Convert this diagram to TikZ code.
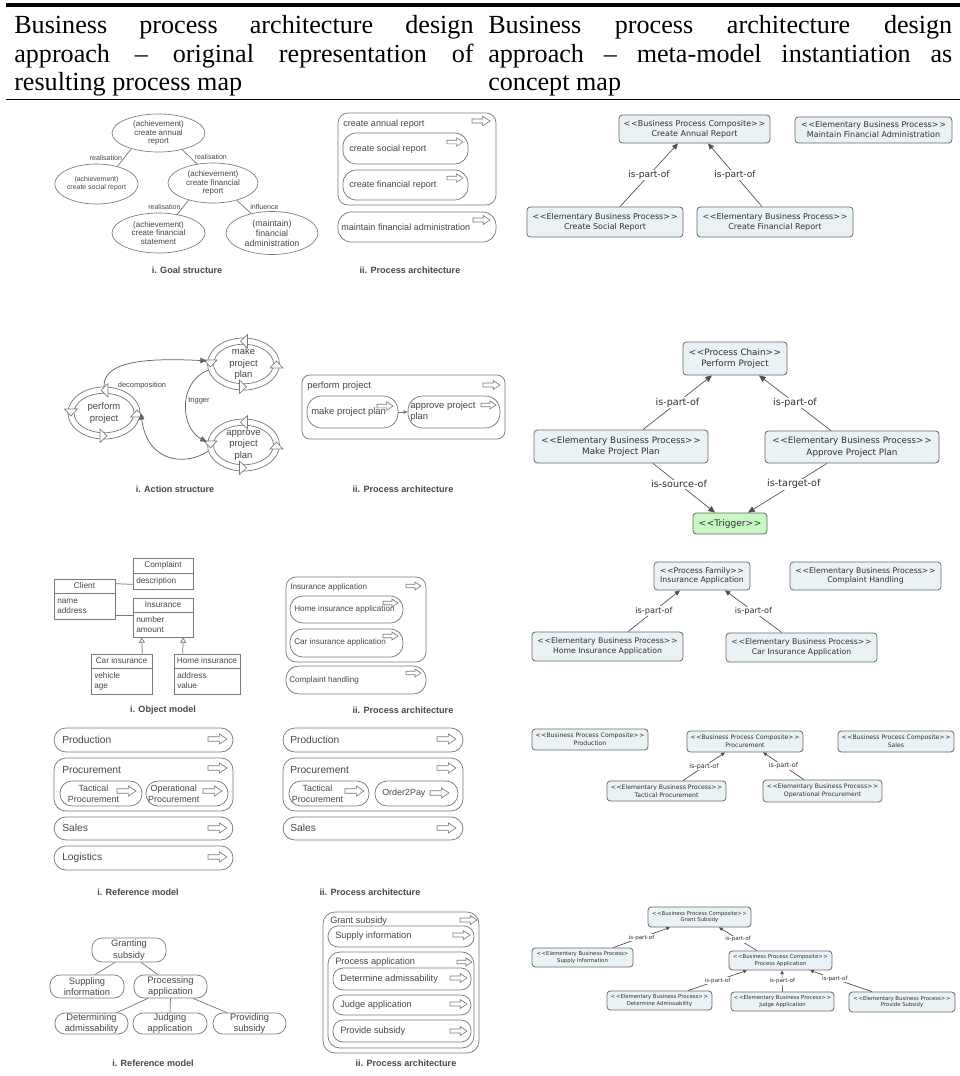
\documentclass[tikz,border=0pt]{standalone}
\usepackage{fontspec}
\setmainfont{Liberation Serif}
\newfontfamily\arial{Liberation Sans}
\newfontfamily\verd{DejaVu Sans}
\usetikzlibrary{shapes.geometric,arrows.meta,fit,calc}
\definecolor{lgray}{HTML}{7A7A7A}
\definecolor{tgray}{HTML}{474747}
\definecolor{cmfill}{HTML}{EBF2F5}
\definecolor{cmborder}{HTML}{6A6A6A}
\definecolor{cmline}{HTML}{505050}
\definecolor{cmtext}{HTML}{303030}
\definecolor{trgfill}{HTML}{C9F7C4}
\newcommand\fsz[2]{\fontsize{#1}{#2}\selectfont}
\newcommand\stL{<\kern0.5pt<}
\newcommand\stR{>\kern0.5pt>}
\tikzset{
 wh/.style 2 args={minimum width=#1*0.75pt, minimum height=#2*0.75pt},
 hd/.style={font=\fsz{19.6pt}{19.6pt}, inner sep=0pt, anchor=base west},
 gl/.style={ellipse, draw=lgray, text=tgray, align=center, inner sep=0pt, line width=0.5pt},
 gline/.style={draw=lgray, line width=0.55pt},
 glbl/.style={font=\arial\fsz{5.3pt}{6pt}, text=tgray, inner sep=0.5pt},
 capt/.style={font=\arial\bfseries\fsz{6.8pt}{8pt}, text=tgray, inner sep=0pt},
 pb/.style={draw=lgray, line width=0.55pt, rounded corners=#1, inner sep=0pt},
 ptx/.style={text=tgray, inner sep=0pt, anchor=west, align=left},
 cmbox/.style={draw=cmborder, fill=cmfill, rounded corners=2.5pt, align=center, inner sep=0pt, text=cmtext, line width=0.6pt},
 cma/.style 2 args={draw=cmline, line width=0.5pt, -{Triangle[length=#1,width=#2]}},
 cml/.style={fill=white, inner sep=0.6pt, text=cmtext},
 uml/.style={draw=lgray, inner sep=0pt, line width=0.55pt},
 umlt/.style={font=\arial\fsz{6.2pt}{7.5pt}, text=tgray, inner sep=0pt, align=left},
 rr/.style={draw=lgray, rounded corners=7.5pt, align=center, inner sep=0pt, font=\arial\fsz{7pt}{8.75pt}, text=tgray, line width=0.55pt},
 aline/.style={draw=lgray!80!black, line width=0.55pt, -{Triangle[length=5pt,width=4pt]}},
 cyct/.style={ellipse, wh={73}{52}, align=center, inner sep=0pt, font=\arial\fsz{7.1pt}{8.6pt}, text=tgray},
 parr/.pic={\draw[draw=lgray, line width=0.5pt, fill=white, line join=miter] (0,-2.3) -- (12,-2.3) -- (12,-5.3) -- (20,0) -- (12,5.3) -- (12,2.3) -- (0,2.3) -- cycle;},
 cyc/.pic={
  \draw[lgray, line width=0.55pt] (0,0) ellipse [x radius=27pt, y radius=19.5pt];
  \draw[lgray, line width=0.55pt] (0,0) ellipse [x radius=22.5pt, y radius=14.8pt];
  \draw[lgray, line width=0.5pt, fill=white] (4,-29.5) -- (-3,-22.8) -- (4,-16) -- cycle;
  \draw[lgray, line width=0.5pt, fill=white] (-4,16) -- (3,22.8) -- (-4,29.5) -- cycle;
  \draw[lgray, line width=0.5pt, fill=white] (-39.5,-4) -- (-33,3) -- (-26.5,-4) -- cycle;
  \draw[lgray, line width=0.5pt, fill=white] (26.5,4) -- (33,-3) -- (39.5,4) -- cycle;
 },
}
\begin{document}
\begin{tikzpicture}[x=0.75pt,y=-0.75pt]
\fill[white] (0,0) rectangle (960,1076);
\useasboundingbox (0,0) rectangle (960,1076);

% ---------------- header
\draw[line width=3pt] (6,4.5) -- (960,4.5);
\draw[line width=1.3pt] (6,99.5) -- (960,99.5);
\node[hd] (hl1) at (14,33.5) {\makebox[344.5pt][s]{Business process architecture design}};
\node[hd] (hl2) at (14,62) {\makebox[344.5pt][s]{approach \textendash{} original representation of}};
\node[hd] (hl3) at (14,90.5) {resulting process map};
\node[hd] (hr1) at (488,33.5) {\makebox[348pt][s]{Business process architecture design}};
\node[hd] (hr2) at (488,62) {\makebox[348pt][s]{approach \textendash{} meta-model instantiation as}};
\node[hd] (hr3) at (488,90.5) {concept map};

% ---------------- row 1: goal structure
\node[gl, wh={93}{38}, font=\arial\fsz{6pt}{6.4pt}] (g1) at (158.5,133) {(achievement)\\create annual\\report};
\node[gl, wh={83}{40}, font=\arial\fsz{5.2pt}{6pt}] (g2) at (96.5,184) {(achievement)\\create social report};
\node[gl, wh={90}{40}, font=\arial\fsz{6pt}{6.4pt}] (g3) at (213,183) {(achievement)\\create financial\\report};
\node[gl, wh={93}{40}, font=\arial\fsz{6pt}{6.4pt}] (g4) at (158.5,233) {(achievement)\\create financial\\statement};
\node[gl, wh={92}{43}, font=\arial\fsz{6.6pt}{7.4pt}] (g5) at (272,233) {(maintain)\\financial\\administration};
\draw[gline] (g1.210) -- (g2.40) node[glbl, midway, left=1pt] (l1) {realisation};
\draw[gline] (g1.325) -- (g3.130) node[glbl, midway, right=3pt] (l2) {realisation};
\draw[gline] (g3.215) -- (g4.45) node[glbl, midway, left=1pt] (l3) {realisation};
\draw[gline] (g3.324) -- (g5.137) node[glbl, midway, right=4pt] (l4) {influence};
\node[capt] (c1a) at (187,270) {i. Goal structure};

% row 1: process architecture
\node[pb=7.5pt, fit={(338,113) (496,205)}] (pa1) {};
\node[ptx, font=\arial\fsz{6.8pt}{8pt}] (pa1t) at (343,124) {create annual report};
\pic[scale=0.9] at (472,121) {parr};
\node[pb=10pt, fit={(343,133) (468,164)}] (pa1a) {};
\node[ptx, font=\arial\fsz{6.8pt}{8pt}] (pa1at) at (349,149) {create social report};
\pic[scale=0.8] at (447,142) {parr};
\node[pb=10pt, fit={(343,170) (468,200)}] (pa1b) {};
\node[ptx, font=\arial\fsz{6.8pt}{8pt}] (pa1bt) at (349,185) {create financial report};
\pic[scale=0.8] at (447,178) {parr};
\node[pb=10pt, fit={(338,212) (496,242)}] (pa1c) {};
\node[ptx, font=\arial\fsz{6.8pt}{8pt}] (pa1ct) at (341,227) {maintain financial administration};
\pic[scale=0.85] at (473,220) {parr};
\node[capt] (c1b) at (410,270) {ii. Process architecture};

% row 1: concept map
\node[cmbox, wh={151}{28}, font=\verd\fsz{6pt}{7.5pt}] (car) at (694.5,129) {\stL Business Process Composite\stR\\Create Annual Report};
\node[cmbox, wh={157}{26}, font=\verd\fsz{6pt}{7.5pt}] (mfa) at (873.5,130) {\stL Elementary Business Process\stR\\Maintain Financial Administration};
\node[cmbox, wh={156}{30}, font=\verd\fsz{6pt}{7.5pt}] (csr) at (605,222) {\stL Elementary Business Process\stR\\Create Social Report};
\node[cmbox, wh={156}{30}, font=\verd\fsz{6pt}{7.5pt}] (cfr) at (775,222) {\stL Elementary Business Process\stR\\Create Financial Report};
\draw[cma={4.5pt}{4pt}] ($(csr.north)+(15,0)$) -- ($(car.south)+(-16.5,0)$) node[cml, midway, font=\verd\fsz{6.8pt}{8pt}] (k1) {is-part-of};
\draw[cma={4.5pt}{4pt}] ($(cfr.north)+(-13,0)$) -- ($(car.south)+(13.5,0)$) node[cml, midway, font=\verd\fsz{6.8pt}{8pt}] (k2) {is-part-of};

% ---------------- row 2: action structure
\pic at (243.5,364) {cyc};
\pic at (104,413) {cyc};
\pic at (243.5,445) {cyc};
\node[cyct] (mk) at (243.5,364) {make\\project\\plan};
\node[cyct] (pf) at (104,413) {perform\\project};
\node[cyct] (ap) at (243.5,445) {approve\\project\\plan};
\draw[aline] (pf.north) .. controls (103,360) and (150,358) .. (mk.175);
\draw[aline] (mk.190) .. controls (178,382) and (180,428) .. (ap.175);
\draw[aline] (ap.190) .. controls (188,465) and (148,465) .. (pf.east);
\node[glbl, font=\arial\fsz{5.6pt}{6.5pt}] (lb1) at (142,386) {decomposition};
\node[glbl, font=\arial\fsz{5.6pt}{6.5pt}] (lb2) at (199,401) {trigger};
\node[capt] (c2a) at (175,489) {i. Action structure};

% row 2: process architecture
\node[pb=6pt, fit={(302,375) (505,439)}] (pa2) {};
\node[ptx, font=\arial\fsz{7.1pt}{8.3pt}] (pa2t) at (307,386) {perform project};
\pic[scale=0.85] at (483,385) {parr};
\node[pb=11pt, fit={(307,396) (398,428)}] (pa2a) {};
\node[ptx, font=\arial\fsz{7.1pt}{8.3pt}] (pa2at) at (311,412) {make project plan};
\pic[scale=0.8] at (377,406) {parr};
\node[pb=11pt, fit={(408,396) (500,428)}] (pa2b) {};
\node[ptx, font=\arial\fsz{7.1pt}{8.3pt}] (pa2bt) at (410,412) {approve project\\plan};
\pic[scale=0.75] at (481,405) {parr};
\draw[lgray, line width=0.55pt, -{Triangle[length=3pt,width=2.6pt]}] (pa2a) -- (pa2b);
\node[capt] (c2b) at (403,489) {ii. Process architecture};

% row 2: concept map
\node[cmbox, wh={104}{33}, font=\verd\fsz{6.6pt}{8.75pt}] (pp) at (735,358.5) {\stL Process Chain\stR\\Perform Project};
\node[cmbox, wh={174}{33}, font=\verd\fsz{6.6pt}{8.75pt}] (mpp) at (621,446.5) {\stL Elementary Business Process\stR\\Make Project Plan};
\node[cmbox, wh={174}{32}, font=\verd\fsz{6.6pt}{8.75pt}] (app) at (852,447) {\stL Elementary Business Process\stR\\Approve Project Plan};
\node[cmbox, wh={74}{21}, fill=trgfill, font=\verd\fsz{6.8pt}{8pt}] (trg) at (730,523.5) {\stL Trigger\stR};
\draw[cma={5pt}{4.5pt}] ($(mpp.north)+(22,0)$) -- ($(pp.south)+(-23,0)$) node[cml, midway, font=\verd\fsz{7.2pt}{8pt}] (k3) {is-part-of};
\draw[cma={5pt}{4.5pt}] ($(app.north)+(-21,0)$) -- ($(pp.south)+(24,0)$) node[cml, midway, font=\verd\fsz{7.2pt}{8pt}] (k4) {is-part-of};
\draw[cma={5pt}{4.5pt}] ($(mpp.south)+(32,0)$) -- ($(trg.north)+(-15,0)$) node[cml, pos=0.42, font=\verd\fsz{7.2pt}{8pt}] (k5) {is-source-of};
\draw[cma={5pt}{4.5pt}] ($(app.south)+(-25,0)$) -- ($(trg.north)+(18,0)$) node[cml, pos=0.42, font=\verd\fsz{7.2pt}{8pt}] (k6) {is-target-of};

% ---------------- row 3: object model
\node[uml, fit={(133,558) (193,589)}] (cmp) {};
\draw[gline] (cmp.west |- 0,573) -- (cmp.east |- 0,573);
\node[umlt] (cmpt) at (163,565.5) {Complaint};
\node[umlt, anchor=west] (cmpa) at (136,581) {description};
\node[uml, fit={(54,579) (115,619)}] (cli) {};
\draw[gline] (cli.west |- 0,593) -- (cli.east |- 0,593);
\node[umlt] (clit) at (84.5,586) {Client};
\node[umlt, anchor=west] (clia) at (57,606) {name\\address};
\node[uml, fit={(133,598) (193,637)}] (ins) {};
\draw[gline] (ins.west |- 0,612) -- (ins.east |- 0,612);
\node[umlt] (inst) at (163,605) {Insurance};
\node[umlt, anchor=west] (insa) at (136,625) {number\\amount};
\node[uml, fit={(91,654) (152,694)}] (car2) {};
\draw[gline] (car2.west |- 0,668) -- (car2.east |- 0,668);
\node[umlt] (car2t) at (121.5,661) {Car insurance};
\node[umlt, anchor=west] (car2a) at (94,681) {vehicle\\age};
\node[uml, fit={(174,654) (240,694)}] (hom) {};
\draw[gline] (hom.west |- 0,668) -- (hom.east |- 0,668);
\node[umlt] (homt) at (207,661) {Home insurance};
\node[umlt, anchor=west] (homa) at (177,681) {address\\value};
\draw[gline] ($(cli.north east)+(0,5)$) -- ($(cmp.south west)+(0,-5)$);
\draw[gline] ($(cli.south east)+(0,-4)$) -- ($(ins.south west)+(0,-22)$);
\draw[gline, -{Triangle[open, length=4pt, width=4.5pt]}] ($(car2.north east)+(-10,0)$) -- ($(ins.south west)+(9,0)$);
\draw[gline, -{Triangle[open, length=4pt, width=4.5pt]}] ($(hom.north west)+(9,0)$) -- ($(ins.south east)+(-10,0)$);
\node[capt] (c3a) at (163,710) {i. Object model};

% row 3: process architecture
\node[pb=7.5pt, fit={(286,577) (426,662)}] (ia) {};
\node[ptx, font=\arial\fsz{6.1pt}{7pt}] (iat) at (290,587) {Insurance application};
\pic[scale=0.75] at (406,586) {parr};
\node[pb=9.5pt, fit={(290,596) (403,623)}] (hiab) {};
\node[ptx, font=\arial\fsz{6.1pt}{7pt}] (hiat) at (294,609) {Home insurance application};
\pic[scale=0.75] at (383,603) {parr};
\node[pb=9.5pt, fit={(290,629) (403,657)}] (ciab) {};
\node[ptx, font=\arial\fsz{6.1pt}{7pt}] (ciat) at (294,642) {Car insurance application};
\pic[scale=0.75] at (383,636) {parr};
\node[pb=9.5pt, fit={(286,666) (426,694)}] (chb) {};
\node[ptx, font=\arial\fsz{6.1pt}{7pt}] (chbt) at (289,680) {Complaint handling};
\pic[scale=0.75] at (406,673) {parr};
\node[capt] (c3b) at (403,710) {ii. Process architecture};

% row 3: concept map
\node[cmbox, wh={96}{28}, font=\verd\fsz{5.8pt}{7pt}] (pfm) at (702,576) {\stL Process Family\stR\\Insurance Application};
\node[cmbox, wh={151}{28}, font=\verd\fsz{5.8pt}{7pt}] (chd) at (865.5,576) {\stL Elementary Business Process\stR\\Complaint Handling};
\node[cmbox, wh={151}{29}, font=\verd\fsz{5.8pt}{7pt}] (hia) at (607.5,646.5) {\stL Elementary Business Process\stR\\Home Insurance Application};
\node[cmbox, wh={151}{29}, font=\verd\fsz{5.8pt}{7pt}] (cia) at (801.5,647.5) {\stL Elementary Business Process\stR\\Car Insurance Application};
\draw[cma={4pt}{3.6pt}] ($(hia.north)+(20.5,0)$) -- ($(pfm.south)+(-22,0)$) node[cml, midway, font=\verd\fsz{6.1pt}{7pt}] (k7) {is-part-of};
\draw[cma={4pt}{3.6pt}] ($(cia.north)+(-19.5,0)$) -- ($(pfm.south)+(23,0)$) node[cml, midway, font=\verd\fsz{6.1pt}{7pt}] (k8) {is-part-of};

% ---------------- row 4: reference model
\node[pb=9pt, fit={(54,728) (233,752)}] (rprod) {};
\node[ptx, font=\arial\fsz{7.7pt}{9pt}] (rprodt) at (62,740) {Production};
\pic[scale=0.95] at (208,739) {parr};
\node[pb=9pt, fit={(54,758) (233,811)}] (rproc) {};
\node[ptx, font=\arial\fsz{7.7pt}{9pt}] (rproct) at (62,770) {Procurement};
\pic[scale=0.95] at (208,768) {parr};
\node[pb=9pt, fit={(60,781) (142,806)}] (rtp) {};
\pic[scale=0.95] at (117,791) {parr};
\node[ptx, anchor=center, align=center, font=\arial\fsz{6.7pt}{8.2pt}] (rtpt) at (93.5,793.5) {Tactical\\Procurement};
\node[pb=9pt, fit={(146,781) (228,806)}] (rop) {};
\pic[scale=0.95] at (203,791) {parr};
\node[ptx, anchor=center, align=center, font=\arial\fsz{6.7pt}{8.2pt}] (ropt) at (173.7,793.5) {Operational\\Procurement};
\node[pb=9pt, fit={(54,817) (233,840)}] (rsal) {};
\node[ptx, font=\arial\fsz{7.7pt}{9pt}] (rsalt) at (62,828) {Sales};
\pic[scale=0.95] at (208,828) {parr};
\node[pb=9pt, fit={(54,846) (233,870)}] (rlog) {};
\node[ptx, font=\arial\fsz{7.7pt}{9pt}] (rlogt) at (62,858) {Logistics};
\pic[scale=0.95] at (208,857) {parr};
\node[capt] (c4a) at (138,892) {i. Reference model};

% row 4: process architecture
\node[pb=9pt, fit={(283,728) (463,752)}] (pprod) {};
\node[ptx, font=\arial\fsz{7.7pt}{9pt}] (pprodt) at (290,740) {Production};
\pic[scale=0.95] at (437,739) {parr};
\node[pb=9pt, fit={(283,758) (463,811)}] (pproc) {};
\node[ptx, font=\arial\fsz{7.7pt}{9pt}] (pproct) at (290,770) {Procurement};
\pic[scale=0.95] at (437,768) {parr};
\node[pb=9pt, fit={(289,781) (369,806)}] (ptp) {};
\pic[scale=0.95] at (345,791) {parr};
\node[ptx, anchor=center, align=center, font=\arial\fsz{6.7pt}{8.2pt}] (ptpt) at (317.5,793.5) {Tactical\\Procurement};
\node[pb=9pt, fit={(375,781) (458,806)}] (pop) {};
\node[ptx, font=\arial\fsz{6.7pt}{8.2pt}] (popt) at (382,793) {Order2Pay};
\pic[scale=0.95] at (430,793) {parr};
\node[pb=9pt, fit={(283,817) (463,840)}] (psal) {};
\node[ptx, font=\arial\fsz{7.7pt}{9pt}] (psalt) at (290,828) {Sales};
\pic[scale=0.95] at (437,828) {parr};
\node[capt] (c4b) at (370,892) {ii. Process architecture};

% row 4: concept map
\node[cmbox, wh={116}{21}, font=\verd\fsz{4.6pt}{6pt}] (cprod) at (590,739.5) {\stL Business Process Composite\stR\\Production};
\node[cmbox, wh={116}{21}, font=\verd\fsz{4.6pt}{6pt}] (cproc) at (745,741.5) {\stL Business Process Composite\stR\\Procurement};
\node[cmbox, wh={116}{21}, font=\verd\fsz{4.6pt}{6pt}] (csal) at (896,741.5) {\stL Business Process Composite\stR\\Sales};
\node[cmbox, wh={119}{20}, font=\verd\fsz{4.6pt}{6pt}] (ctp) at (666.5,791) {\stL Elementary Business Process\stR\\Tactical Procurement};
\node[cmbox, wh={119}{22}, font=\verd\fsz{4.6pt}{6pt}] (cop) at (822.5,791) {\stL Elementary Business Process\stR\\Operational Procurement};
\draw[cma={3pt}{2.7pt}] ($(ctp.north)+(16.5,0)$) -- ($(cproc.south)+(-20,0)$) node[cml, midway, font=\verd\fsz{4.8pt}{6pt}] (k9) {is-part-of};
\draw[cma={3pt}{2.7pt}] ($(cop.north)+(-18.5,0)$) -- ($(cproc.south)+(18,0)$) node[cml, midway, font=\verd\fsz{4.8pt}{6pt}] (k10) {is-part-of};

% ---------------- row 5: reference model
\node[rr, wh={74}{24}] (grs) at (129,950) {Granting\\subsidy};
\node[rr, wh={74}{23}] (sup) at (87,986.5) {Suppling\\information};
\node[rr, wh={73}{23}] (pra) at (170.5,986.5) {Processing\\application};
\node[rr, wh={73}{21}] (det) at (91.5,1023.5) {Determining\\admissability};
\node[rr, wh={74}{21}] (jud) at (170,1023.5) {Judging\\application};
\node[rr, wh={73}{21}] (prv) at (249.5,1023.5) {Providing\\subsidy};
\draw[gline] ($(grs.south)+(-14,0)$) -- ($(sup.north)+(8,0)$);
\draw[gline] ($(grs.south)+(12,0)$) -- ($(pra.north)+(-12.5,0)$);
\draw[gline] ($(pra.south)+(-22.5,0)$) -- ($(det.north)+(25.5,0)$);
\draw[gline] (pra.south) -- (jud.north);
\draw[gline] ($(pra.south)+(22.5,0)$) -- ($(prv.north)+(-22.5,0)$);
\node[capt] (c5a) at (153,1063) {i. Reference model};

% row 5: process architecture
\node[pb=9pt, fit={(323,912) (479,1053)}] (gsb) {};
\node[ptx, font=\arial\fsz{6.9pt}{8pt}] (gsbt) at (330,921) {Grant subsidy};
\pic[scale=0.85] at (460,920) {parr};
\node[pb=7.5pt, fit={(328,926) (474,947)}] (sib) {};
\node[ptx, font=\arial\fsz{6.9pt}{8pt}] (sibt) at (335,936.5) {Supply information};
\pic[scale=0.85] at (453,935) {parr};
\node[pb=9pt, fit={(328,952) (474,1048)}] (pab) {};
\node[ptx, font=\arial\fsz{6.9pt}{8pt}] (pabt) at (335,962) {Process application};
\pic[scale=0.75] at (457,962) {parr};
\node[pb=7.5pt, fit={(333,968) (471,990)}] (dab) {};
\node[ptx, font=\arial\fsz{6.9pt}{8pt}] (dabt) at (340,979) {Determine admissability};
\pic[scale=0.85] at (450,978) {parr};
\node[pb=7.5pt, fit={(333,995) (471,1015)}] (jab) {};
\node[ptx, font=\arial\fsz{6.9pt}{8pt}] (jabt) at (340,1005) {Judge application};
\pic[scale=0.85] at (450,1004) {parr};
\node[pb=7.5pt, fit={(333,1020) (471,1042)}] (psb) {};
\node[ptx, font=\arial\fsz{6.9pt}{8pt}] (psbt) at (340,1031) {Provide subsidy};
\pic[scale=0.85] at (450,1031) {parr};
\node[capt] (c5b) at (406,1063) {ii. Process architecture};

% row 5: concept map
\node[cmbox, wh={103}{20}, font=\verd\fsz{4pt}{5pt}] (cgs) at (699.5,917) {\stL Business Process Composite\stR\\Grant Subsidy};
\node[cmbox, wh={101}{19}, font=\verd\fsz{4pt}{5pt}] (csi) at (582.5,957.5) {\stL Elementary Business Process>\\Supply Information};
\node[cmbox, wh={103}{19}, font=\verd\fsz{4pt}{5pt}] (cpa) at (780.5,960.5) {\stL Business Process Composite\stR\\Process Application};
\node[cmbox, wh={105}{19}, font=\verd\fsz{4pt}{5pt}] (cda) at (659.5,1000.5) {\stL Elementary Business Process\stR\\Determine Admissability};
\node[cmbox, wh={103}{19}, font=\verd\fsz{4pt}{5pt}] (cja) at (782.5,1001.5) {\stL Elementary Business Process\stR\\Judge Application};
\node[cmbox, wh={106}{20}, font=\verd\fsz{4pt}{5pt}] (cps) at (902,1002) {\stL Elementary Business Process\stR\\Provide Subsidy};
\draw[cma={2.8pt}{2.5pt}] ($(csi.north)+(30.5,0)$) -- ($(cgs.south)+(-29.5,0)$) node[cml, midway, font=\verd\fsz{4.2pt}{5pt}] (k11) {is-part-of};
\draw[cma={2.8pt}{2.5pt}] ($(cpa.north)+(-23.5,0)$) -- ($(cgs.south)+(19.5,0)$) node[cml, midway, font=\verd\fsz{4.2pt}{5pt}] (k12) {is-part-of};
\draw[cma={2.8pt}{2.5pt}] ($(cda.north)+(28.5,0)$) -- ($(cpa.south)+(-33.5,0)$) node[cml, midway, font=\verd\fsz{4.2pt}{5pt}] (k13) {is-part-of};
\draw[cma={2.8pt}{2.5pt}] (cja.north) -- ($(cpa.south)+(1.5,0)$) node[cml, midway, font=\verd\fsz{4.2pt}{5pt}] (k14) {is-part-of};
\draw[cma={2.8pt}{2.5pt}] ($(cps.north)+(-30,0)$) -- ($(cpa.south)+(29.5,0)$) node[cml, pos=0.6, font=\verd\fsz{4.2pt}{5pt}] (k15) {is-part-of};
\end{tikzpicture}
\end{document}
